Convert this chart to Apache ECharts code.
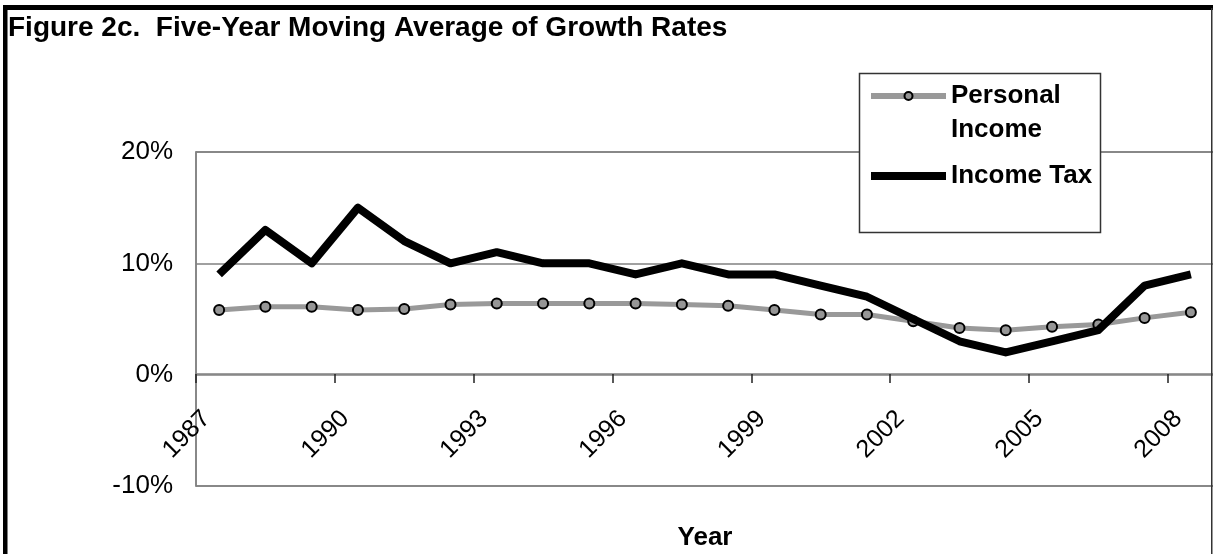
<!DOCTYPE html>
<html>
<head>
<meta charset="utf-8">
<title>Figure 2c</title>
<script src="https://cdn.jsdelivr.net/npm/echarts@6/dist/echarts.min.js"></script>
<style>
  html, body { margin: 0; padding: 0; background: #fff; }
  #main { width: 1213px; height: 554px; }
</style>
</head>
<body>
<div id="main"></div>
<script>
// years on the category axis
var years = ['1987', '1988', '1989', '1990', '1991', '1992', '1993', '1994', '1995', '1996', '1997',
    '1998', '1999', '2000', '2001', '2002', '2003', '2004', '2005', '2006', '2007', '2008'];
// five-year moving average growth, percent
var personalIncome = [5.8, 6.1, 6.1, 5.8, 5.9, 6.3, 6.4, 6.4, 6.4, 6.4, 6.3,
    6.2, 5.8, 5.4, 5.4, 4.8, 4.2, 4.0, 4.3, 4.5, 5.1, 5.6];
var incomeTax = [9, 13, 10, 15, 12, 10, 11, 10, 10, 9, 10,
    9, 9, 8, 7, 5, 3, 2, 3, 4, 8, 9];
var yTicks = [-10, 0, 10, 20];

var font = '"Liberation Sans", Arial, sans-serif';
var gray = '#808080';

var chart = echarts.init(document.getElementById('main'));

var option = {
    backgroundColor: '#fff',
    animation: false,
    title: {
        text: 'Figure 2c.  Five-Year Moving Average of Growth Rates',
        left: 8,
        top: 14,
        padding: 0,
        textStyle: {
            fontFamily: font,
            fontSize: 28,
            fontWeight: 'bold',
            color: '#000'
        }
    },
    graphic: [
        // outer frame of the figure
        { type: 'rect', shape: { x: 3, y: 5, width: 4.5, height: 549 }, style: { fill: '#000' }, z: 10 },
        { type: 'rect', shape: { x: 3, y: 5, width: 1210, height: 5 }, style: { fill: '#000' }, z: 10 },
        { type: 'rect', shape: { x: 1211, y: 8, width: 1.5, height: 546 }, style: { fill: '#333' }, z: 10 },
        // legend box
        { type: 'rect', shape: { x: 859.5, y: 73.5, width: 241, height: 159 },
          style: { fill: '#fff', stroke: '#333', lineWidth: 1.5 }, z: 5 }
    ],
    legend: {
        orient: 'vertical',
        left: 867,
        top: 45,
        padding: 0,
        itemWidth: 75,
        itemHeight: 10,
        itemGap: 12,
        selectedMode: false,
        z: 6,
        // empty first line keeps "Personal" level with its icon
        formatter: function (name) {
            return name.indexOf('\n') >= 0 ? '\n' + name : name;
        },
        textStyle: {
            fontFamily: font,
            fontSize: 26,
            fontWeight: 'bold',
            color: '#000',
            lineHeight: 34
        },
        data: [
            {
                name: 'Personal\nIncome',
                lineStyle: { width: 6, color: '#999999' },
                itemStyle: { color: '#969696', borderColor: '#000', borderWidth: 2 }
            },
            {
                name: 'Income Tax',
                lineStyle: { width: 8, color: '#000' }
            }
        ]
    },
    grid: {
        left: 196,
        top: 152,
        width: 1018,
        height: 334,
        containLabel: false,
        outerBoundsMode: 'none',
        show: true,
        borderColor: gray,
        borderWidth: 1.5
    },
    xAxis: {
        type: 'category',
        data: years,
        boundaryGap: true,
        // axis sits on the 0% line (112px above the plot bottom)
        offset: -112,
        name: 'Year',
        nameLocation: 'middle',
        nameGap: 151,
        nameTextStyle: {
            fontFamily: font,
            fontSize: 26,
            fontWeight: 'bold',
            color: '#000'
        },
        axisLine: { show: true, onZero: false, lineStyle: { color: gray, width: 1.5 } },
        axisTick: { show: true, interval: 2, length: 9, lineStyle: { color: '#222', width: 1.5 } },
        axisLabel: {
            interval: 2,
            rotate: 45,
            margin: 28,
            padding: [0, 18, 0, 0],
            fontFamily: font,
            fontSize: 25,
            color: '#000'
        },
        splitLine: { show: false }
    },
    yAxis: {
        type: 'value',
        min: yTicks[0],
        max: yTicks[yTicks.length - 1],
        interval: 10,
        axisLine: { show: true, lineStyle: { color: gray, width: 1.5 } },
        axisTick: { show: false },
        axisLabel: {
            margin: 23,
            fontFamily: font,
            fontSize: 26,
            color: '#000',
            formatter: '{value}%'
        },
        splitLine: { show: true, lineStyle: { color: gray, width: 1.5 } }
    },
    series: [
        {
            name: 'Personal\nIncome',
            type: 'line',
            data: personalIncome,
            symbol: 'circle',
            symbolSize: 10,
            showAllSymbol: true,
            lineStyle: { color: '#999999', width: 5 },
            itemStyle: { color: '#969696', borderColor: '#000', borderWidth: 2 },
            z: 3
        },
        {
            name: 'Income Tax',
            type: 'line',
            data: incomeTax,
            symbol: 'none',
            lineStyle: { color: '#000', width: 8, join: 'round' },
            itemStyle: { color: '#000' },
            z: 4
        }
    ]
};

chart.setOption(option);
</script>
</body>
</html>
